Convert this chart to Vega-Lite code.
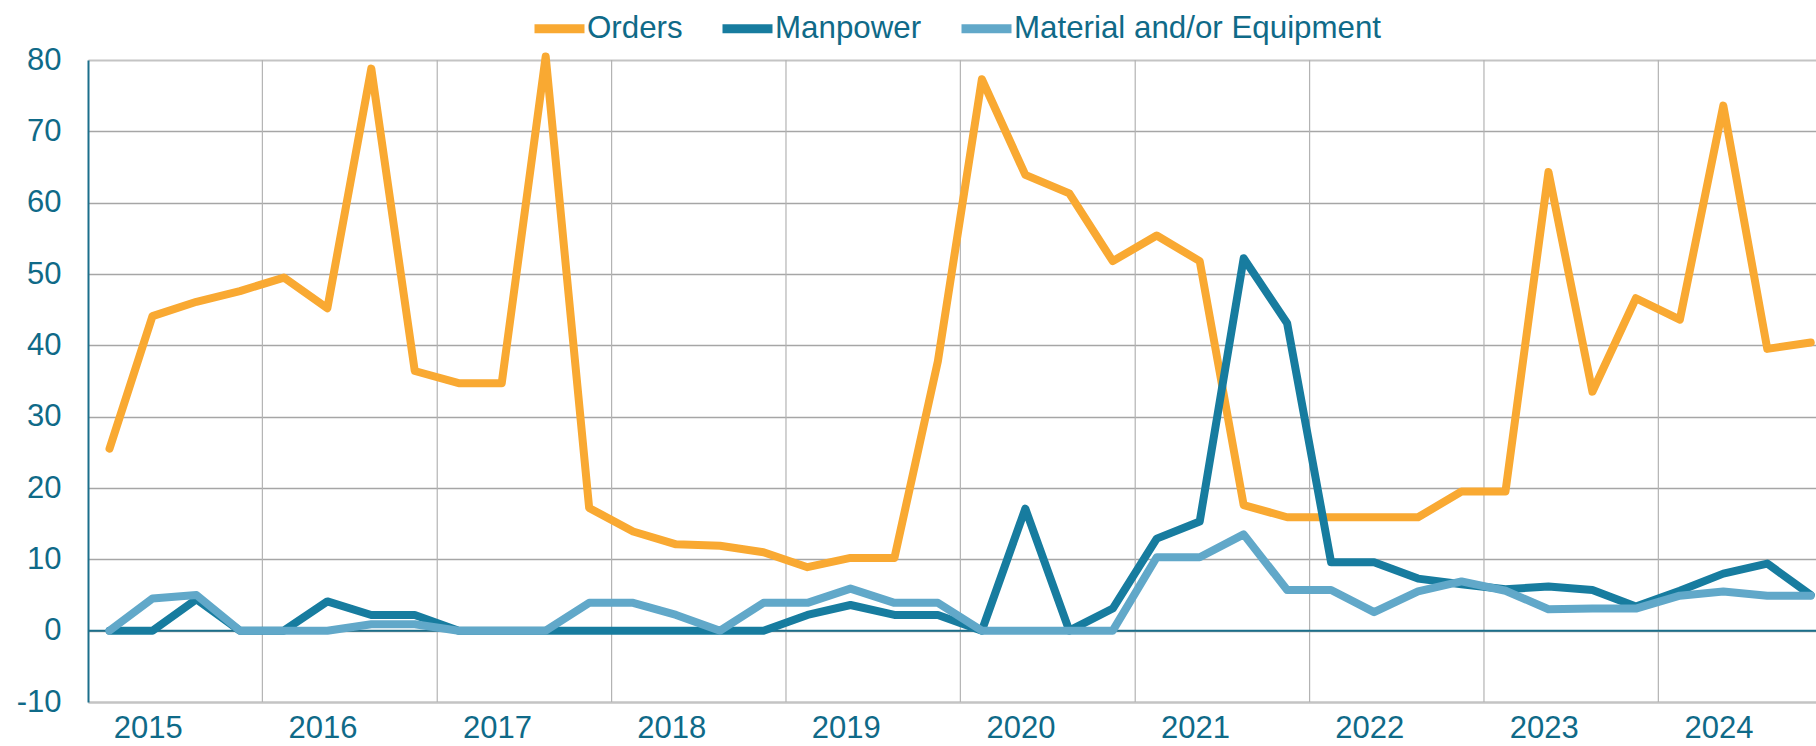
{
  "$schema": "https://vega.github.io/schema/vega-lite/v6.json",
  "autosize": "none",
  "width": 1728,
  "height": 642,
  "padding": {"left": 88, "top": 60, "right": 0, "bottom": 44},
  "background": "white",
  "config": {"font": "Liberation Sans", "view": {"stroke": null}},
  "datasets": {
    "boundaries": [
      {"boundary": "2016-01-01"}, {"boundary": "2017-01-01"}, {"boundary": "2018-01-01"},
      {"boundary": "2019-01-01"}, {"boundary": "2020-01-01"}, {"boundary": "2021-01-01"},
      {"boundary": "2022-01-01"}, {"boundary": "2023-01-01"}, {"boundary": "2024-01-01"}
    ],
    "quarters": [
      {"date": "2015-02-15", "Orders": 25.5, "Manpower": 0, "Material and/or Equipment": 0},
      {"date": "2015-05-16", "Orders": 44.1, "Manpower": 0, "Material and/or Equipment": 4.5},
      {"date": "2015-08-16", "Orders": 46.1, "Manpower": 4.4, "Material and/or Equipment": 5.0},
      {"date": "2015-11-15", "Orders": 47.6, "Manpower": 0, "Material and/or Equipment": 0},
      {"date": "2016-02-15", "Orders": 49.5, "Manpower": 0, "Material and/or Equipment": 0},
      {"date": "2016-05-16", "Orders": 45.2, "Manpower": 4.1, "Material and/or Equipment": 0},
      {"date": "2016-08-16", "Orders": 78.8, "Manpower": 2.2, "Material and/or Equipment": 0.9},
      {"date": "2016-11-15", "Orders": 36.4, "Manpower": 2.2, "Material and/or Equipment": 0.9},
      {"date": "2017-02-15", "Orders": 34.7, "Manpower": 0, "Material and/or Equipment": 0},
      {"date": "2017-05-16", "Orders": 34.7, "Manpower": 0, "Material and/or Equipment": 0},
      {"date": "2017-08-16", "Orders": 80.5, "Manpower": 0, "Material and/or Equipment": 0},
      {"date": "2017-11-15", "Orders": 17.2, "Manpower": 0, "Material and/or Equipment": 3.9},
      {"date": "2018-02-15", "Orders": 13.9, "Manpower": 0, "Material and/or Equipment": 3.9},
      {"date": "2018-05-16", "Orders": 12.1, "Manpower": 0, "Material and/or Equipment": 2.2},
      {"date": "2018-08-16", "Orders": 11.9, "Manpower": 0, "Material and/or Equipment": 0},
      {"date": "2018-11-15", "Orders": 11.0, "Manpower": 0, "Material and/or Equipment": 3.9},
      {"date": "2019-02-15", "Orders": 8.9, "Manpower": 2.2, "Material and/or Equipment": 3.9},
      {"date": "2019-05-16", "Orders": 10.2, "Manpower": 3.6, "Material and/or Equipment": 5.9},
      {"date": "2019-08-16", "Orders": 10.2, "Manpower": 2.2, "Material and/or Equipment": 3.9},
      {"date": "2019-11-15", "Orders": 37.8, "Manpower": 2.2, "Material and/or Equipment": 3.9},
      {"date": "2020-02-15", "Orders": 77.3, "Manpower": 0, "Material and/or Equipment": 0},
      {"date": "2020-05-16", "Orders": 63.9, "Manpower": 17.1, "Material and/or Equipment": 0},
      {"date": "2020-08-16", "Orders": 61.3, "Manpower": 0, "Material and/or Equipment": 0},
      {"date": "2020-11-15", "Orders": 51.8, "Manpower": 3.1, "Material and/or Equipment": 0},
      {"date": "2021-02-15", "Orders": 55.4, "Manpower": 12.9, "Material and/or Equipment": 10.3},
      {"date": "2021-05-16", "Orders": 51.8, "Manpower": 15.3, "Material and/or Equipment": 10.3},
      {"date": "2021-08-16", "Orders": 17.6, "Manpower": 52.2, "Material and/or Equipment": 13.5},
      {"date": "2021-11-15", "Orders": 15.9, "Manpower": 43.1, "Material and/or Equipment": 5.7},
      {"date": "2022-02-15", "Orders": 15.9, "Manpower": 9.6, "Material and/or Equipment": 5.7},
      {"date": "2022-05-16", "Orders": 15.9, "Manpower": 9.6, "Material and/or Equipment": 2.6},
      {"date": "2022-08-16", "Orders": 15.9, "Manpower": 7.3, "Material and/or Equipment": 5.5},
      {"date": "2022-11-15", "Orders": 19.5, "Manpower": 6.5, "Material and/or Equipment": 6.9},
      {"date": "2023-02-15", "Orders": 19.5, "Manpower": 5.8, "Material and/or Equipment": 5.6},
      {"date": "2023-05-16", "Orders": 64.3, "Manpower": 6.2, "Material and/or Equipment": 3.0},
      {"date": "2023-08-16", "Orders": 33.5, "Manpower": 5.7, "Material and/or Equipment": 3.1},
      {"date": "2023-11-15", "Orders": 46.6, "Manpower": 3.4, "Material and/or Equipment": 3.1},
      {"date": "2024-02-15", "Orders": 43.6, "Manpower": 5.6, "Material and/or Equipment": 4.9},
      {"date": "2024-05-16", "Orders": 73.6, "Manpower": 8.0, "Material and/or Equipment": 5.5},
      {"date": "2024-08-16", "Orders": 39.5, "Manpower": 9.4, "Material and/or Equipment": 4.9},
      {"date": "2024-11-15", "Orders": 40.4, "Manpower": 5.0, "Material and/or Equipment": 4.9}
    ]
  },
  "layer": [
    {
      "data": {"name": "boundaries"},
      "mark": {"type": "rule", "color": "#B3B3B3", "strokeWidth": 1.2},
      "encoding": {
        "x": {
          "field": "boundary", "type": "temporal",
          "scale": {"type": "utc", "domain": [{"year": 2015, "month": 1, "date": 1, "utc": true}, {"year": 2024, "month": 11, "date": 26, "utc": true}], "nice": false},
          "axis": {
            "values": [
              {"year": 2015, "month": 5, "date": 6, "utc": true}, {"year": 2016, "month": 5, "date": 6, "utc": true},
              {"year": 2017, "month": 5, "date": 6, "utc": true}, {"year": 2018, "month": 5, "date": 6, "utc": true},
              {"year": 2019, "month": 5, "date": 6, "utc": true}, {"year": 2020, "month": 5, "date": 6, "utc": true},
              {"year": 2021, "month": 5, "date": 6, "utc": true}, {"year": 2022, "month": 5, "date": 6, "utc": true},
              {"year": 2023, "month": 5, "date": 6, "utc": true}, {"year": 2024, "month": 5, "date": 6, "utc": true}
            ],
            "labelExpr": "utcFormat(datum.value, '%Y')",
            "grid": false, "ticks": false, "tickSize": 0,
            "domain": true, "domainColor": "#C4C4C4", "domainWidth": 2,
            "labelFontSize": 31, "labelColor": "#0F6A88", "labelPadding": 11,
            "labelFlush": false, "labelOverlap": false, "title": null
          }
        }
      }
    },
    {
      "data": {"values": [{}]},
      "mark": {"type": "rule", "color": "#1B6F8B", "strokeWidth": 2},
      "encoding": {
        "y": {
          "datum": 0, "type": "quantitative",
          "scale": {"domain": [-10, 80], "nice": false, "zero": false},
          "axis": {
            "values": [-10, 0, 10, 20, 30, 40, 50, 60, 70, 80],
            "labelExpr": "datum.value < 0 ? '-' + (-datum.value) : '' + datum.value",
            "grid": true,
            "gridColor": {"condition": {"test": "datum.value == 80 || datum.value == -10", "value": "#C4C4C4"}, "value": "#A6A6A6"},
            "gridWidth": {"condition": {"test": "datum.value == 80 || datum.value == -10", "value": 2}, "value": 1.3},
            "ticks": false, "tickSize": 0,
            "domain": true, "domainColor": "#1B6F8B", "domainWidth": 2,
            "labelFontSize": 31, "labelColor": "#0F6A88", "labelPadding": 27,
            "labelFlush": false, "labelOverlap": false, "title": null
          }
        }
      }
    },
    {
      "data": {"name": "quarters"},
      "transform": [{"fold": ["Orders", "Manpower", "Material and/or Equipment"], "as": ["series", "value"]}],
      "mark": {"type": "line", "strokeWidth": 8, "strokeCap": "round", "strokeJoin": "round"},
      "encoding": {
        "x": {
          "field": "date", "type": "temporal",
          "scale": {"type": "utc", "domain": [{"year": 2015, "month": 1, "date": 1, "utc": true}, {"year": 2024, "month": 11, "date": 26, "utc": true}], "nice": false},
          "axis": {
            "values": [
              {"year": 2015, "month": 5, "date": 6, "utc": true}, {"year": 2016, "month": 5, "date": 6, "utc": true},
              {"year": 2017, "month": 5, "date": 6, "utc": true}, {"year": 2018, "month": 5, "date": 6, "utc": true},
              {"year": 2019, "month": 5, "date": 6, "utc": true}, {"year": 2020, "month": 5, "date": 6, "utc": true},
              {"year": 2021, "month": 5, "date": 6, "utc": true}, {"year": 2022, "month": 5, "date": 6, "utc": true},
              {"year": 2023, "month": 5, "date": 6, "utc": true}, {"year": 2024, "month": 5, "date": 6, "utc": true}
            ],
            "labelExpr": "utcFormat(datum.value, '%Y')",
            "grid": false, "ticks": false, "tickSize": 0,
            "domain": true, "domainColor": "#C4C4C4", "domainWidth": 2,
            "labelFontSize": 31, "labelColor": "#0F6A88", "labelPadding": 11,
            "labelFlush": false, "labelOverlap": false, "title": null
          }
        },
        "y": {
          "field": "value", "type": "quantitative",
          "scale": {"domain": [-10, 80], "nice": false, "zero": false},
          "axis": {
            "values": [-10, 0, 10, 20, 30, 40, 50, 60, 70, 80],
            "labelExpr": "datum.value < 0 ? '-' + (-datum.value) : '' + datum.value",
            "grid": true,
            "gridColor": {"condition": {"test": "datum.value == 80 || datum.value == -10", "value": "#C4C4C4"}, "value": "#A6A6A6"},
            "gridWidth": {"condition": {"test": "datum.value == 80 || datum.value == -10", "value": 2}, "value": 1.3},
            "ticks": false, "tickSize": 0,
            "domain": true, "domainColor": "#1B6F8B", "domainWidth": 2,
            "labelFontSize": 31, "labelColor": "#0F6A88", "labelPadding": 27,
            "labelFlush": false, "labelOverlap": false, "title": null
          }
        },
        "color": {
          "field": "series", "type": "nominal",
          "scale": {"domain": ["Orders", "Manpower", "Material and/or Equipment"], "range": ["#F9A932", "#177C9F", "#61A8C9"]},
          "legend": {
            "orient": "none", "legendX": 442, "legendY": -61, "direction": "horizontal",
            "title": null, "symbolType": "stroke", "symbolSize": 2500, "symbolStrokeWidth": 9,
            "labelFontSize": 31.3, "labelColor": "#0F6A88", "labelOffset": -2, "columnPadding": 21, "labelLimit": 1000
          }
        }
      }
    }
  ]
}
